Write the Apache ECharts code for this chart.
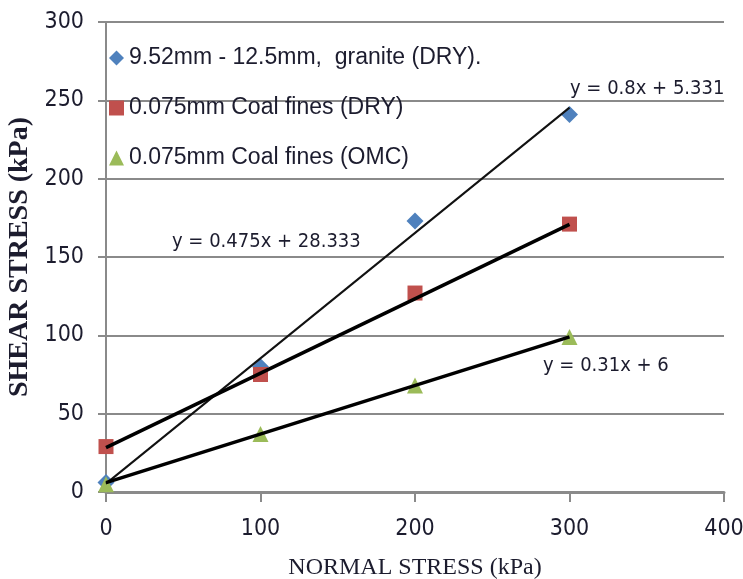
<!DOCTYPE html>
<html><head><meta charset="utf-8">
<script src="https://cdn.jsdelivr.net/npm/echarts@6/dist/echarts.min.js"></script>
<style>html,body{margin:0;padding:0;background:#fff}#c{width:743px;height:579px}</style>
</head><body><div id="c"></div>
<script>
const normalStress = [0, 100, 200, 300];
const graniteDry = [6, 80, 173, 241];
const coalDry = [29, 75, 127, 171];
const coalOmc = [5, 37, 68, 99];
const seriesNames = ['9.52mm - 12.5mm,  granite (DRY).', '0.075mm Coal fines (DRY)', '0.075mm Coal fines (OMC)'];
const trendSlopes = [0.8, 0.475, 0.31];
const trendIntercepts = [5.331, 28.333, 6];
const trendLabels = ['y = 0.8x + 5.331', 'y = 0.475x + 28.333', 'y = 0.31x + 6'];
const trendRange = [0, 300];
const xTicks = [0, 100, 200, 300, 400];
const yTicks = [0, 50, 100, 150, 200, 250, 300];

const narrow = '"DejaVu Sans Condensed", "Liberation Sans", sans-serif';
const textCol = '#1c1c2e';
const chart = echarts.init(document.getElementById('c'));
const pts = arr => normalStress.map((x, i) => [x, arr[i]]);
const trend = i => trendRange.map(x => [x, trendSlopes[i] * x + trendIntercepts[i]]);

chart.setOption({
  animation: false,
  grid: {left: 106, right: 19, top: 22, bottom: 87, outerBoundsMode: 'none', containLabel: false},
  legend: {
    orient: 'vertical', left: 104, top: 41,
    data: seriesNames,
    itemWidth: 15, itemHeight: 15, itemGap: 26,
    textStyle: {fontFamily: '"Liberation Sans", Arial, sans-serif', fontSize: 23, color: textCol, lineHeight: 24}
  },
  xAxis: {
    type: 'value', min: xTicks[0], max: xTicks[xTicks.length - 1], interval: 100,
    name: 'NORMAL STRESS (kPa)', nameLocation: 'middle', nameGap: 64,
    nameTextStyle: {fontFamily: '"Liberation Serif", "Times New Roman", serif', fontSize: 24, color: textCol},
    axisLine: {lineStyle: {color: '#8a8a8a', width: 3}},
    axisTick: {show: true, length: 10, lineStyle: {color: '#8a8a8a', width: 2}},
    axisLabel: {margin: 26, fontFamily: narrow, fontSize: 23, color: textCol},
    splitLine: {show: false}
  },
  yAxis: {
    type: 'value', min: yTicks[0], max: yTicks[yTicks.length - 1], interval: 50,
    name: 'SHEAR STRESS (kPa)', nameLocation: 'middle', nameGap: 65, nameRotate: 90,
    nameTextStyle: {fontFamily: '"Liberation Serif", "Times New Roman", serif', fontWeight: 'bold', fontSize: 28, color: textCol},
    axisLine: {show: true, lineStyle: {color: '#8a8a8a', width: 2}},
    axisTick: {show: true, length: 8, lineStyle: {color: '#8a8a8a', width: 2}},
    axisLabel: {margin: 22, fontFamily: narrow, fontSize: 23, color: textCol},
    splitLine: {show: true, lineStyle: {color: '#8a8a8a', width: 2}}
  },
  series: [
    {type: 'line', data: trend(0), symbol: 'none', lineStyle: {color: '#111', width: 2}, silent: true, z: 3},
    {type: 'line', data: trend(1), symbol: 'none', lineStyle: {color: '#000', width: 3.5}, silent: true, z: 3},
    {type: 'line', data: trend(2), symbol: 'none', lineStyle: {color: '#000', width: 3.5}, silent: true, z: 3},
    {name: seriesNames[0], type: 'scatter', data: pts(graniteDry), symbol: 'diamond', symbolSize: 17, itemStyle: {color: '#4f81bd', opacity: 1}, z: 2},
    {name: seriesNames[1], type: 'scatter', data: pts(coalDry), symbol: 'rect', symbolSize: 15, itemStyle: {color: '#c0504d', opacity: 1}, z: 2},
    {name: seriesNames[2], type: 'scatter', data: pts(coalOmc), symbol: 'triangle', symbolSize: 16, itemStyle: {color: '#9bbb59', opacity: 1}, z: 2}
  ],
  graphic: [
    {type: 'text', left: 570, top: 79, style: {text: trendLabels[0], font: '20px ' + narrow, fill: textCol}},
    {type: 'text', left: 172, top: 232, style: {text: trendLabels[1], font: '20px ' + narrow, fill: textCol}},
    {type: 'text', left: 543, top: 356, style: {text: trendLabels[2], font: '20px ' + narrow, fill: textCol}}
  ]
});
</script></body></html>
